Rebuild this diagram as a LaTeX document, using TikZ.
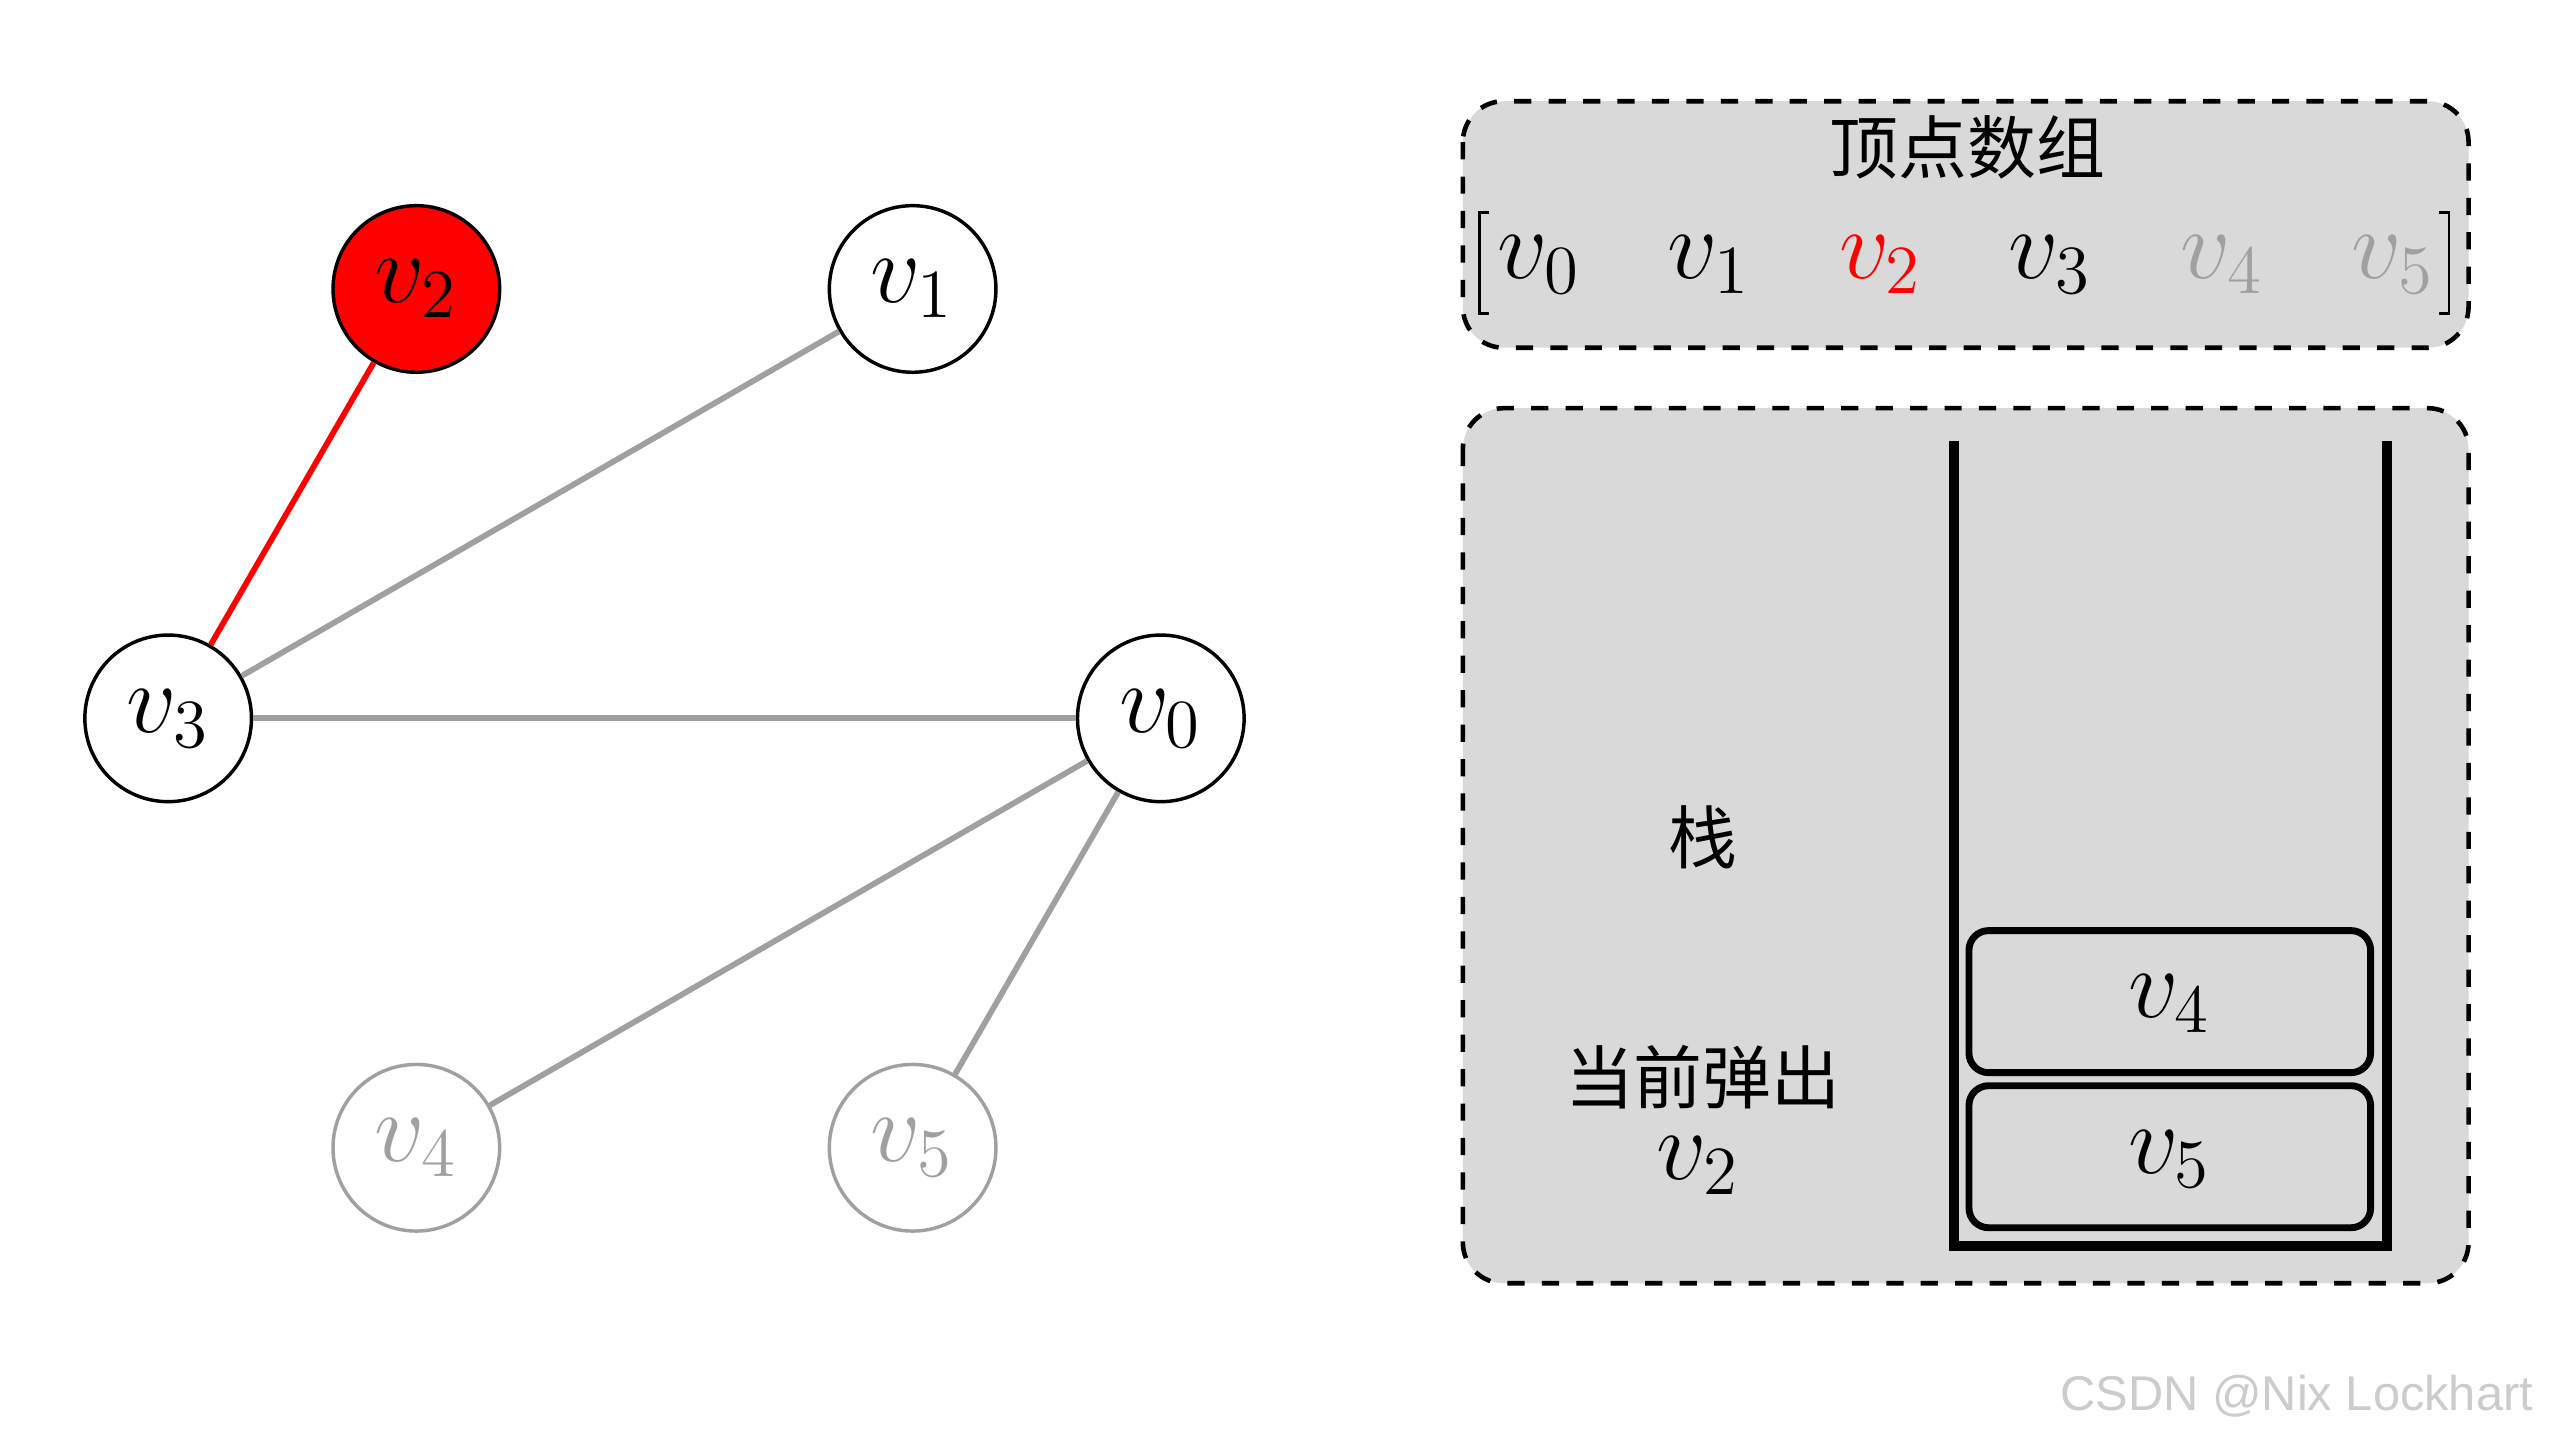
\documentclass[tikz,border=0pt]{standalone}
\usepackage{fontspec}
\newfontfamily\cjk{Noto Sans CJK SC}
\newfontfamily\wm{Liberation Sans}
\definecolor{eg}{RGB}{160,160,160}
\definecolor{bx}{RGB}{217,217,217}
\begin{document}
\begin{tikzpicture}[x=0.01cm,y=-0.01cm,
  vx/.style={circle,draw,line width=0.6pt,minimum size=1.02cm,inner sep=0pt,font=\fontsize{17}{20}\selectfont},
  lt/.style={vx,draw=eg,text=eg},
  ed/.style={draw=eg,line width=1pt},
  panel/.style={draw,dashed,fill=bx,rounded corners=0.25cm,line width=0.8pt},
  mt/.style={font=\fontsize{17}{20}\selectfont},
  ct/.style={font=\cjk\fontsize{12}{15}\selectfont},
  item/.style={draw,line width=1.2pt,rounded corners=0.12cm}]
\useasboundingbox (0,0) rectangle (1568,882);
\node[vx,fill=red] (v2) at (255,177) {$v_2$};
\node[vx] (v1) at (559,177) {$v_1$};
\node[vx] (v3) at (103,440) {$v_3$};
\node[vx] (v0) at (711,440) {$v_0$};
\node[lt] (v4) at (255,703) {$v_4$};
\node[lt] (v5) at (559,703) {$v_5$};
\draw[red,line width=1pt] (v2)--(v3);
\draw[ed] (v1)--(v3);
\draw[ed] (v3)--(v0);
\draw[ed] (v0)--(v4);
\draw[ed] (v0)--(v5);
% top panel
\draw[panel] (896,62) rectangle (1512,213);
\node[ct] (tt) at (1205,90) {顶点数组};
\node[mt] (a0) at (943,162) {$v_0$};
\node[mt] (a1) at (1047,162) {$v_1$};
\node[mt,text=red] (a2) at (1152,162) {$v_2$};
\node[mt] (a3) at (1256,162) {$v_3$};
\node[mt,text=eg] (a4) at (1361,162) {$v_4$};
\node[mt,text=eg] (a5) at (1466,162) {$v_5$};
\draw[line width=0.5pt] (912,130)--(906,130)--(906,192)--(912,192);
\draw[line width=0.5pt] (1494,130)--(1500,130)--(1500,192)--(1494,192);
% bottom panel
\draw[panel] (896,250) rectangle (1512,786);
\draw[line width=1.8pt] (1197,270)--(1197,763)--(1462,763)--(1462,270);
\draw[item] (1206,570) rectangle (1452,657);
\node[mt] (s4) at (1329,615) {$v_4$};
\draw[item] (1206,665) rectangle (1452,752);
\node[mt] (s5) at (1329,710) {$v_5$};
\node[ct] (zh) at (1043,513) {栈};
\node[ct] (pop) at (1043,660) {当前弹出};
\node[mt] (pv) at (1040,714) {$v_2$};
\node[font=\wm\fontsize{8.5}{10}\selectfont,text=black!20,anchor=east] (wm) at (1564,855) {CSDN @Nix Lockhart};
\end{tikzpicture}
\end{document}
